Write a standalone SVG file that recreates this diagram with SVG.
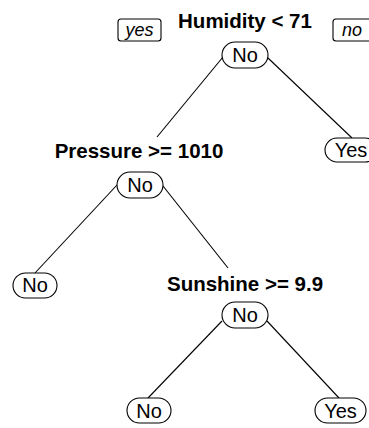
<svg xmlns="http://www.w3.org/2000/svg" width="369" height="428" viewBox="0 0 369 428">
  <style>
    .box { fill: #ffffff; stroke: #000000; stroke-width: 1.1; }
    .edge { fill: none; stroke: #000000; stroke-width: 1.1; }
    .node { font-family: "Liberation Sans", Arial, sans-serif; font-size: 20px; text-anchor: middle; fill: #000000; }
    .split { font-family: "Liberation Sans", Arial, sans-serif; font-size: 20.5px; font-weight: bold; text-anchor: middle; fill: #000000; }
    .dir { font-family: "Liberation Sans", Arial, sans-serif; font-size: 18px; font-style: italic; text-anchor: middle; fill: #000000; }
  </style>
  <rect width="369" height="428" fill="#ffffff"/>

  <!-- branch lines -->
  <g id="connectors">
    <line class="edge" x1="223" y1="57" x2="157" y2="137"/>
    <line class="edge" x1="268" y1="58" x2="352" y2="138"/>
    <line class="edge" x1="117" y1="185" x2="35" y2="273"/>
    <line class="edge" x1="163" y1="186" x2="228" y2="268"/>
    <line class="edge" x1="222" y1="321" x2="148" y2="398"/>
    <line class="edge" x1="267" y1="321" x2="339" y2="398"/>
  </g>

  <!-- yes / no direction tags -->
  <g id="tag-yes">
    <rect class="box" x="118" y="19" width="43" height="22" rx="3"/>
    <text class="dir" x="139.5" y="36">yes</text>
  </g>
  <g id="tag-no">
    <rect class="box" x="333" y="19" width="43" height="22" rx="3"/>
    <text class="dir" x="352" y="36">no</text>
  </g>

  <!-- split: Humidity -->
  <g id="node-humidity">
    <text class="split" x="245" y="28">Humidity &lt; 71</text>
    <rect class="box" x="222" y="42" width="46" height="26" rx="13"/>
    <text class="node" x="245" y="62">No</text>
  </g>

  <!-- leaf: Yes (right of root) -->
  <g id="leaf-yes-1">
    <rect class="box" x="325" y="138" width="52" height="24" rx="12"/>
    <text class="node" x="351" y="157">Yes</text>
  </g>

  <!-- split: Pressure -->
  <g id="node-pressure">
    <text class="split" x="139" y="158">Pressure &gt;= 1010</text>
    <rect class="box" x="117" y="172" width="46" height="26" rx="13"/>
    <text class="node" x="140" y="192">No</text>
  </g>

  <!-- leaf: No (left of Pressure) -->
  <g id="leaf-no-1">
    <rect class="box" x="13" y="273" width="44" height="25" rx="12.5"/>
    <text class="node" x="35" y="292">No</text>
  </g>

  <!-- split: Sunshine -->
  <g id="node-sunshine">
    <text class="split" x="245" y="291">Sunshine &gt;= 9.9</text>
    <rect class="box" x="222" y="302" width="46" height="26" rx="13"/>
    <text class="node" x="245" y="322">No</text>
  </g>

  <!-- bottom leaves -->
  <g id="leaf-no-2">
    <rect class="box" x="127" y="398" width="44" height="25" rx="12.5"/>
    <text class="node" x="149" y="417.5">No</text>
  </g>
  <g id="leaf-yes-2">
    <rect class="box" x="315" y="398" width="51" height="25" rx="12.5"/>
    <text class="node" x="340.5" y="417.5">Yes</text>
  </g>
</svg>
